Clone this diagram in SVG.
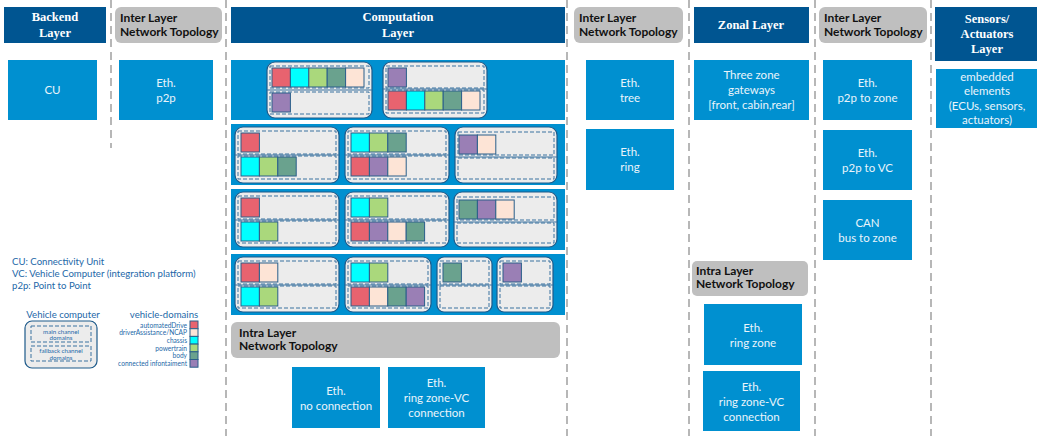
<svg xmlns="http://www.w3.org/2000/svg" width="1037" height="436" viewBox="0 0 1037 436">
  <defs>
    <style>
      .sep { stroke: #a6a6a6; stroke-width: 1.6; stroke-dasharray: 8 5; fill: none; }
      .hdr { fill: #005591; }
      .hdrT { font-family: "Liberation Serif", serif; font-weight: bold; font-size: 12.5px; fill: #ffffff; text-anchor: middle; }
      .gray { fill: #bfbfbf; }
      .grayT { font-family: Lato, "Open Sans", sans-serif; font-weight: bold; font-size: 12px; fill: #111111; }
      .box { fill: #0090d0; }
      .boxT { font-family: Lato, "Open Sans", sans-serif; font-size: 11.5px; fill: #eaf4fb; text-anchor: middle; }
      .band { fill: #0090d0; }
      .vc { fill: #ececec; stroke: #1d5a8a; stroke-width: 1.2; }
      .dash { fill: none; stroke: #3b73a0; stroke-width: 1; stroke-dasharray: 4 2; }
      .mid { stroke: #3b73a0; stroke-width: 1; }
      .sq { stroke: #2a5f8a; stroke-width: 1; }
      .ad { fill: #e8636f; }
      .da { fill: #fde4d6; }
      .ch { fill: #00ffff; }
      .pt { fill: #aad87c; }
      .bd { fill: #6aa28e; }
      .ci { fill: #9a7fb5; }
      .lg { font-family: Lato, "Open Sans", sans-serif; font-size: 9.6px; fill: #2468a8; }
      .lgH { font-family: Lato, "Open Sans", sans-serif; font-size: 9.6px; fill: #2468a8; text-anchor: middle; }
      .lgS { font-family: Lato, "Open Sans", sans-serif; font-size: 6.6px; fill: #2468a8; text-anchor: end; }
      .lgI { font-family: Lato, "Open Sans", sans-serif; font-size: 6.2px; fill: #2468a8; text-anchor: middle; }
    </style>
  </defs>

  <rect width="1037" height="436" fill="#ffffff"/>

  <!-- column separators -->
  <g id="separators">
    <line class="sep" x1="111" y1="0" x2="111" y2="148"/>
    <line class="sep" x1="226" y1="0" x2="226" y2="436"/>
    <line class="sep" x1="567" y1="0" x2="567" y2="436"/>
    <line class="sep" x1="689" y1="0" x2="689" y2="436"/>
    <line class="sep" x1="815" y1="0" x2="815" y2="436"/>
    <line class="sep" x1="931" y1="0" x2="931" y2="436"/>
  </g>

  <!-- column headers -->
  <g id="hdr-backend">
    <rect class="hdr" x="4" y="7" width="102" height="36"/>
    <text class="hdrT" x="55" y="21">Backend</text>
    <text class="hdrT" x="55" y="37">Layer</text>
  </g>
  <g id="hdr-inter1">
    <rect class="gray" x="115" y="7" width="107" height="36" rx="6"/>
    <text class="grayT" x="120" y="22">Inter Layer</text>
    <text class="grayT" x="120" y="36">Network Topology</text>
  </g>
  <g id="hdr-computation">
    <rect class="hdr" x="231" y="7" width="334" height="36"/>
    <text class="hdrT" x="398" y="21">Computation</text>
    <text class="hdrT" x="398" y="37">Layer</text>
  </g>
  <g id="hdr-inter2">
    <rect class="gray" x="574" y="7" width="109" height="36" rx="6"/>
    <text class="grayT" x="579" y="22">Inter Layer</text>
    <text class="grayT" x="579" y="36">Network Topology</text>
  </g>
  <g id="hdr-zonal">
    <rect class="hdr" x="694" y="7" width="115" height="36"/>
    <text class="hdrT" x="751" y="29">Zonal Layer</text>
  </g>
  <g id="hdr-inter3">
    <rect class="gray" x="819" y="7" width="108" height="36" rx="6"/>
    <text class="grayT" x="824" y="22">Inter Layer</text>
    <text class="grayT" x="824" y="36">Network Topology</text>
  </g>
  <g id="hdr-sensors">
    <rect class="hdr" x="935" y="7" width="102" height="54"/>
    <text class="hdrT" x="987" y="23">Sensors/</text>
    <text class="hdrT" x="987" y="38">Actuators</text>
    <text class="hdrT" x="987" y="53">Layer</text>
  </g>

  <!-- backend / inter layer boxes -->
  <g id="cu">
    <rect class="box" x="8" y="60" width="89" height="60"/>
    <text class="boxT" x="52.5" y="94">CU</text>
  </g>
  <g id="eth-p2p">
    <rect class="box" x="119" y="60" width="94" height="60"/>
    <text class="boxT" x="166" y="87">Eth.</text>
    <text class="boxT" x="166" y="102">p2p</text>
  </g>

  <!-- computation layer: four vehicle-computer variants -->
  <g id="variant-1">
    <rect class="band" x="231" y="60" width="334" height="60"/>
    <g id="vc-1a">
      <rect class="vc" x="267" y="62" width="105" height="56" rx="8"/>
      <rect class="dash" x="270" y="66" width="99" height="22"/>
      <line class="mid" x1="267" y1="90" x2="372" y2="90"/>
      <rect class="dash" x="270" y="92" width="99" height="22"/>
      <rect class="sq ad" x="272" y="68" width="18.4" height="19"/>
      <rect class="sq ch" x="290.4" y="68" width="18.4" height="19"/>
      <rect class="sq pt" x="308.8" y="68" width="18.4" height="19"/>
      <rect class="sq bd" x="327.2" y="68" width="18.4" height="19"/>
      <rect class="sq da" x="345.6" y="68" width="18.4" height="19"/>
      <rect class="sq ci" x="272" y="93" width="18.4" height="19"/>
    </g>
    <g id="vc-1b">
      <rect class="vc" x="383" y="62" width="104" height="56" rx="8"/>
      <rect class="dash" x="386" y="66" width="98" height="22"/>
      <line class="mid" x1="383" y1="89" x2="487" y2="89"/>
      <rect class="dash" x="386" y="90" width="98" height="23"/>
      <rect class="sq ci" x="388" y="68" width="18.4" height="19"/>
      <rect class="sq ad" x="388" y="91" width="18.4" height="19"/>
      <rect class="sq ch" x="406.4" y="91" width="18.4" height="19"/>
      <rect class="sq pt" x="424.8" y="91" width="18.4" height="19"/>
      <rect class="sq bd" x="443.2" y="91" width="18.4" height="19"/>
      <rect class="sq da" x="461.6" y="91" width="18.4" height="19"/>
    </g>
  </g>

  <g id="variant-2">
    <rect class="band" x="231" y="124" width="334" height="61"/>
    <g id="vc-2a">
      <rect class="vc" x="235" y="127" width="104" height="56" rx="8"/>
      <rect class="dash" x="238" y="131" width="98" height="23"/>
      <line class="mid" x1="235" y1="155" x2="339" y2="155"/>
      <rect class="dash" x="238" y="156" width="98" height="23"/>
      <rect class="sq ad" x="241" y="133" width="18.4" height="19"/>
      <rect class="sq ch" x="241" y="157" width="18.4" height="19"/>
      <rect class="sq pt" x="259.4" y="157" width="18.4" height="19"/>
      <rect class="sq bd" x="277.8" y="157" width="18.4" height="19"/>
    </g>
    <g id="vc-2b">
      <rect class="vc" x="345" y="127" width="104" height="56" rx="8"/>
      <rect class="dash" x="348" y="131" width="98" height="23"/>
      <line class="mid" x1="345" y1="155" x2="449" y2="155"/>
      <rect class="dash" x="348" y="156" width="98" height="23"/>
      <rect class="sq ch" x="351" y="133" width="18.4" height="19"/>
      <rect class="sq pt" x="369.4" y="133" width="18.4" height="19"/>
      <rect class="sq bd" x="387.8" y="133" width="18.4" height="19"/>
      <rect class="sq ad" x="351" y="157" width="18.4" height="19"/>
      <rect class="sq ci" x="369.4" y="157" width="18.4" height="19"/>
      <rect class="sq da" x="387.8" y="157" width="18.4" height="19"/>
    </g>
    <g id="vc-2c">
      <rect class="vc" x="455" y="127" width="102" height="56" rx="8"/>
      <rect class="dash" x="458" y="132" width="96" height="23"/>
      <line class="mid" x1="455" y1="157" x2="557" y2="157"/>
      <rect class="dash" x="458" y="158" width="96" height="21"/>
      <rect class="sq ci" x="459" y="135" width="18.4" height="19"/>
      <rect class="sq da" x="477.4" y="135" width="18.4" height="19"/>
    </g>
  </g>

  <g id="variant-3">
    <rect class="band" x="231" y="189" width="334" height="61"/>
    <g id="vc-3a">
      <rect class="vc" x="235" y="192" width="104" height="55" rx="8"/>
      <rect class="dash" x="238" y="196" width="98" height="23"/>
      <line class="mid" x1="235" y1="220" x2="339" y2="220"/>
      <rect class="dash" x="238" y="221" width="98" height="22"/>
      <rect class="sq ad" x="241" y="198" width="18.4" height="19"/>
      <rect class="sq ch" x="241" y="222" width="18.4" height="19"/>
      <rect class="sq pt" x="259.4" y="222" width="18.4" height="19"/>
    </g>
    <g id="vc-3b">
      <rect class="vc" x="345" y="192" width="104" height="55" rx="8"/>
      <rect class="dash" x="348" y="196" width="98" height="23"/>
      <line class="mid" x1="345" y1="220" x2="449" y2="220"/>
      <rect class="dash" x="348" y="221" width="98" height="22"/>
      <rect class="sq ch" x="351" y="198" width="18.4" height="19"/>
      <rect class="sq pt" x="369.4" y="198" width="18.4" height="19"/>
      <rect class="sq ad" x="351" y="222" width="18.4" height="19"/>
      <rect class="sq ci" x="369.4" y="222" width="18.4" height="19"/>
      <rect class="sq da" x="387.8" y="222" width="18.4" height="19"/>
      <rect class="sq bd" x="406.2" y="222" width="18.4" height="19"/>
    </g>
    <g id="vc-3c">
      <rect class="vc" x="454" y="192" width="103" height="55" rx="8"/>
      <rect class="dash" x="457" y="197" width="97" height="23"/>
      <line class="mid" x1="454" y1="222" x2="557" y2="222"/>
      <rect class="dash" x="457" y="223" width="97" height="20"/>
      <rect class="sq bd" x="459" y="200" width="18.4" height="19"/>
      <rect class="sq ci" x="477.4" y="200" width="18.4" height="19"/>
      <rect class="sq da" x="495.8" y="200" width="18.4" height="19"/>
    </g>
  </g>

  <g id="variant-4">
    <rect class="band" x="231" y="254" width="334" height="61"/>
    <g id="vc-4a">
      <rect class="vc" x="235" y="257" width="104" height="55" rx="8"/>
      <rect class="dash" x="238" y="261" width="98" height="23"/>
      <line class="mid" x1="235" y1="285" x2="339" y2="285"/>
      <rect class="dash" x="238" y="286" width="98" height="22"/>
      <rect class="sq ad" x="241" y="263" width="18.4" height="19"/>
      <rect class="sq da" x="259.4" y="263" width="18.4" height="19"/>
      <rect class="sq ch" x="241" y="287" width="18.4" height="19"/>
      <rect class="sq pt" x="259.4" y="287" width="18.4" height="19"/>
    </g>
    <g id="vc-4b">
      <rect class="vc" x="345" y="257" width="86" height="55" rx="8"/>
      <rect class="dash" x="348" y="261" width="80" height="23"/>
      <line class="mid" x1="345" y1="285" x2="431" y2="285"/>
      <rect class="dash" x="348" y="286" width="80" height="22"/>
      <rect class="sq ch" x="351" y="263" width="18.4" height="19"/>
      <rect class="sq pt" x="369.4" y="263" width="18.4" height="19"/>
      <rect class="sq ad" x="351" y="287" width="18.4" height="19"/>
      <rect class="sq da" x="369.4" y="287" width="18.4" height="19"/>
      <rect class="sq bd" x="387.8" y="287" width="18.4" height="19"/>
      <rect class="sq ci" x="406.2" y="287" width="18.4" height="19"/>
    </g>
    <g id="vc-4c">
      <rect class="vc" x="437" y="257" width="55" height="55" rx="7"/>
      <rect class="dash" x="440" y="261" width="49" height="23"/>
      <line class="mid" x1="437" y1="285" x2="492" y2="285"/>
      <rect class="dash" x="440" y="286" width="49" height="22"/>
      <rect class="sq bd" x="443" y="263" width="18.4" height="19"/>
    </g>
    <g id="vc-4d">
      <rect class="vc" x="497" y="257" width="56" height="55" rx="7"/>
      <rect class="dash" x="500" y="261" width="50" height="23"/>
      <line class="mid" x1="497" y1="285" x2="553" y2="285"/>
      <rect class="dash" x="500" y="286" width="50" height="22"/>
      <rect class="sq ci" x="503" y="263" width="18.4" height="19"/>
    </g>
  </g>

  <g id="intra-computation">
    <rect class="gray" x="231" y="322" width="329" height="36" rx="6"/>
    <text class="grayT" x="239" y="337">Intra Layer</text>
    <text class="grayT" x="239" y="350">Network Topology</text>
  </g>
  <g id="eth-no-connection">
    <rect class="box" x="292" y="367" width="88" height="61"/>
    <text class="boxT" x="336" y="395">Eth.</text>
    <text class="boxT" x="336" y="410">no connection</text>
  </g>
  <g id="eth-ring-zone-vc-1">
    <rect class="box" x="388" y="367" width="97" height="61"/>
    <text class="boxT" x="436.5" y="387">Eth.</text>
    <text class="boxT" x="436.5" y="402">ring zone-VC</text>
    <text class="boxT" x="436.5" y="417">connection</text>
  </g>

  <!-- inter layer: computation to zonal -->
  <g id="eth-tree">
    <rect class="box" x="586" y="60" width="88" height="60"/>
    <text class="boxT" x="630" y="87">Eth.</text>
    <text class="boxT" x="630" y="102">tree</text>
  </g>
  <g id="eth-ring">
    <rect class="box" x="586" y="129" width="88" height="61"/>
    <text class="boxT" x="630" y="156">Eth.</text>
    <text class="boxT" x="630" y="171">ring</text>
  </g>

  <!-- zonal layer -->
  <g id="zone-gateways">
    <rect class="box" x="694" y="60" width="115" height="60"/>
    <text class="boxT" x="751.5" y="79">Three zone</text>
    <text class="boxT" x="751.5" y="94">gateways</text>
    <text class="boxT" x="751.5" y="109">[front, cabin,rear]</text>
  </g>
  <g id="intra-zonal">
    <rect class="gray" x="692" y="261" width="116" height="35" rx="5"/>
    <text class="grayT" x="696" y="275">Intra Layer</text>
    <text class="grayT" x="696" y="288">Network Topology</text>
  </g>
  <g id="eth-ring-zone">
    <rect class="box" x="704" y="304" width="98" height="61"/>
    <text class="boxT" x="753" y="332">Eth.</text>
    <text class="boxT" x="753" y="347">ring zone</text>
  </g>
  <g id="eth-ring-zone-vc-2">
    <rect class="box" x="703" y="371" width="97" height="60"/>
    <text class="boxT" x="751.5" y="391">Eth.</text>
    <text class="boxT" x="751.5" y="406">ring zone-VC</text>
    <text class="boxT" x="751.5" y="421">connection</text>
  </g>

  <!-- inter layer: zonal to sensors/actuators -->
  <g id="eth-p2p-zone">
    <rect class="box" x="823" y="60" width="89" height="60"/>
    <text class="boxT" x="867.5" y="87">Eth.</text>
    <text class="boxT" x="867.5" y="102">p2p to zone</text>
  </g>
  <g id="eth-p2p-vc">
    <rect class="box" x="823" y="130" width="89" height="60"/>
    <text class="boxT" x="867.5" y="157">Eth.</text>
    <text class="boxT" x="867.5" y="172">p2p to VC</text>
  </g>
  <g id="can-bus">
    <rect class="box" x="823" y="200" width="89" height="60"/>
    <text class="boxT" x="867.5" y="227">CAN</text>
    <text class="boxT" x="867.5" y="242">bus to zone</text>
  </g>

  <!-- sensors / actuators layer -->
  <g id="embedded">
    <rect class="box" x="936" y="69" width="101" height="59"/>
    <text class="boxT" x="987" y="81">embedded</text>
    <text class="boxT" x="987" y="95">elements</text>
    <text class="boxT" x="987" y="110">(ECUs, sensors,</text>
    <text class="boxT" x="987" y="124">actuators)</text>
  </g>

  <!-- abbreviations -->
  <g id="abbreviations">
    <text class="lg" x="12" y="265">CU: Connectivity Unit</text>
    <text class="lg" x="12" y="277">VC: Vehicle Computer (integration platform)</text>
    <text class="lg" x="12" y="289">p2p: Point to Point</text>
  </g>

  <!-- vehicle computer key -->
  <g id="legend-vc">
    <text class="lgH" x="63" y="318">Vehicle computer</text>
    <rect class="vc" x="25" y="321" width="72" height="47" rx="7"/>
    <rect class="dash" x="31" y="326" width="60" height="16"/>
    <rect class="dash" x="31" y="346" width="60" height="15"/>
    <text class="lgI" x="61" y="333.5">main channel</text>
    <text class="lgI" x="61" y="340">domains</text>
    <text class="lgI" x="61" y="352.5">fallback channel</text>
    <text class="lgI" x="61" y="359.5">domains</text>
  </g>

  <!-- vehicle-domain colour key -->
  <g id="legend-domains">
    <text class="lgH" x="164" y="318">vehicle-domains</text>
    <rect class="sq ad" x="190" y="321" width="8" height="7.7"/>
    <rect class="sq da" x="190" y="328.7" width="8" height="7.7"/>
    <rect class="sq ch" x="190" y="336.4" width="8" height="7.7"/>
    <rect class="sq pt" x="190" y="344.1" width="8" height="7.7"/>
    <rect class="sq bd" x="190" y="351.8" width="8" height="7.7"/>
    <rect class="sq ci" x="190" y="359.5" width="8" height="7.7"/>
    <text class="lgS" x="187" y="327.5">automatedDrive</text>
    <text class="lgS" x="187" y="335.2">driverAssistance/NCAP</text>
    <text class="lgS" x="187" y="342.9">chassis</text>
    <text class="lgS" x="187" y="350.6">powertrain</text>
    <text class="lgS" x="187" y="358.3">body</text>
    <text class="lgS" x="187" y="366">connected infontaiment</text>
  </g>
</svg>
